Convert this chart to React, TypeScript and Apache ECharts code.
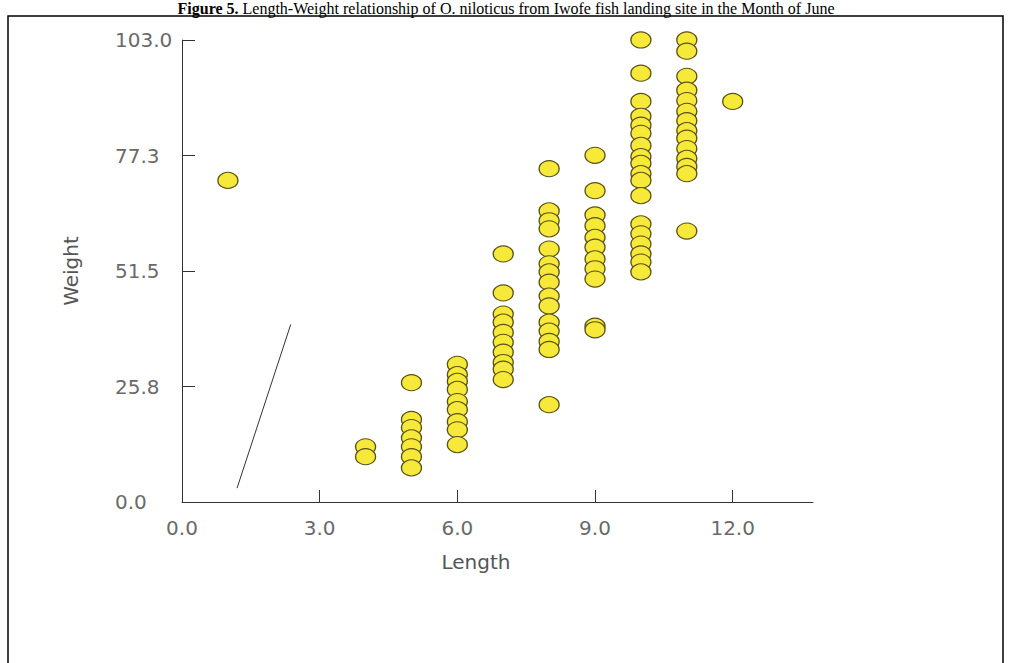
import React, { useEffect, useRef } from "react";
import * as echarts from "echarts";

// Length (x) columns and the weights observed at each length
const w1 = [71.7];
const w4 = [12.3, 10.1];
const w5 = [26.6, 18.4, 16.6, 14.3, 12.3, 10.1, 7.6];
const w6 = [30.7, 28.4, 26.9, 25.1, 22.4, 20.6, 17.9, 16.1, 12.8];
const w7 = [55.3, 46.6, 41.9, 40.1, 37.8, 35.6, 33.4, 31.1, 29.6, 27.3];
const w8 = [74.3, 64.9, 62.7, 60.9, 56.4, 53.1, 51.3, 49.0, 45.9, 43.7, 40.1, 38.1, 35.8, 34.0, 21.7];
const w9 = [77.3, 69.4, 64.0, 61.6, 59.0, 56.8, 54.2, 52.0, 49.7, 39.2, 38.4];
const w10 = [103.0, 95.6, 89.3, 86.0, 84.0, 82.2, 79.5, 77.0, 75.5, 73.2, 71.7, 68.3, 62.0, 59.8, 57.5, 55.3, 53.5, 51.3];
const w11 = [103.0, 100.5, 94.9, 91.8, 89.5, 87.1, 85.0, 82.8, 81.1, 78.8, 76.6, 74.8, 73.2, 60.4];
const w12 = [89.3];

const lengths = [1, 4, 5, 6, 7, 8, 9, 10, 11, 12];
const weightsByLength = [w1, w4, w5, w6, w7, w8, w9, w10, w11, w12];

// fitted line as drawn in the figure
const fitLine = [
  [1.2, 3.1],
  [2.37, 39.6],
];

const xTicks = [0, 3, 6, 9, 12];
const yTicks = [0, 25.75, 51.5, 77.25, 103];

const titleText =
  "{b|Figure 5.} Length-Weight relationship of O. niloticus from Iwofe fish landing site in the Month of June";

export default function App() {
  const ref = useRef<HTMLDivElement>(null);

  useEffect(() => {
    if (!ref.current) return;
    const chart = echarts.init(ref.current, null, { renderer: "svg" });

    const points: number[][] = [];
    lengths.forEach((len, i) => {
      weightsByLength[i].forEach((w) => points.push([len, w]));
    });

    const labelFont = "DejaVu Sans";

    chart.setOption({
      animation: false,
      backgroundColor: "#ffffff",
      grid: { left: 182, top: 40, right: 199, bottom: 161, containLabel: false },
      xAxis: {
        type: "value",
        min: 0,
        max: 13.75,
        interval: 3,
        name: "Length",
        nameLocation: "middle",
        nameGap: 50,
        nameTextStyle: {
          fontFamily: labelFont,
          fontSize: 20,
          color: "#555",
          padding: [0, 43, 0, 0],
        },
        axisLine: { show: true, onZero: false, lineStyle: { color: "#333", width: 1 } },
        axisTick: {
          show: true,
          inside: true,
          length: 12,
          customValues: xTicks,
          lineStyle: { color: "#333" },
        },
        axisLabel: {
          customValues: xTicks,
          margin: 16,
          fontFamily: labelFont,
          fontSize: 20,
          color: "#6a6a6a",
          formatter: (v: number) => v.toFixed(1),
        },
        splitLine: { show: false },
      },
      yAxis: {
        type: "value",
        min: 0,
        max: 103,
        interval: 25.75,
        name: "Weight",
        nameLocation: "middle",
        nameGap: 101,
        nameRotate: 90,
        nameTextStyle: { fontFamily: labelFont, fontSize: 20, color: "#555" },
        axisLine: { show: true, onZero: false, lineStyle: { color: "#333", width: 1 } },
        axisTick: {
          show: true,
          inside: true,
          length: 13,
          customValues: yTicks,
          lineStyle: { color: "#333" },
        },
        axisLabel: {
          customValues: yTicks,
          margin: 67,
          align: "left",
          fontFamily: labelFont,
          fontSize: 20,
          color: "#6a6a6a",
          formatter: (v: number) => v.toFixed(1),
        },
        splitLine: { show: false },
      },
      graphic: [
        {
          type: "rect",
          shape: { x: 8, y: 16, width: 995, height: 700 },
          style: { fill: "none", stroke: "#000", lineWidth: 1.5 },
          silent: true,
        },
        {
          type: "text",
          x: 506,
          y: 0,
          style: {
            text: titleText,
            fontFamily: "Liberation Serif",
            fontSize: 16,
            fill: "#000",
            align: "center",
            verticalAlign: "top",
            rich: {
              b: { fontFamily: "Liberation Serif", fontSize: 16, fontWeight: "bold", fill: "#000" },
            },
          },
          silent: true,
        },
      ],
      series: [
        {
          type: "line",
          data: fitLine,
          symbol: "none",
          lineStyle: { color: "#333", width: 1 },
          z: 1,
        },
        {
          type: "scatter",
          data: points,
          symbol: "circle",
          symbolSize: [20, 16],
          itemStyle: {
            color: "#f6e93a",
            borderColor: "#5a5214",
            borderWidth: 1.2,
            opacity: 1,
          },
          z: 2,
        },
      ],
    });

    return () => chart.dispose();
  }, []);

  return (
    <div
      ref={ref}
      style={{ position: "absolute", left: 0, top: 0, width: 1012, height: 663 }}
    />
  );
}
